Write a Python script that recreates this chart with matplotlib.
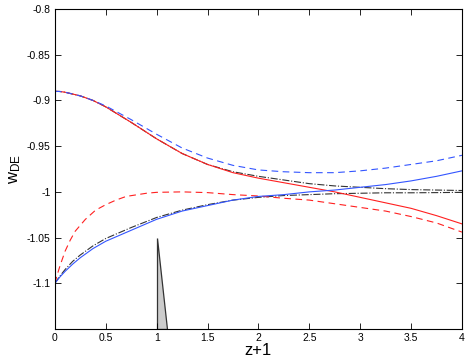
import numpy as np
import matplotlib.pyplot as plt

plt.rcParams['font.family'] = ['Liberation Sans', 'DejaVu Sans']

z = [0, 0.05, 0.1, 0.175, 0.25, 0.375, 0.5, 0.75, 1.0, 1.25, 1.5, 1.75, 2.0, 2.25, 2.5, 2.75,
     3.0, 3.25, 3.5, 3.75, 4.0]
red_solid = [-0.890, -0.8902, -0.891, -0.893, -0.895, -0.900, -0.907, -0.924, -0.942, -0.958,
             -0.970, -0.979, -0.985, -0.990, -0.995, -1.000, -1.006, -1.012, -1.018, -1.026, -1.035]
blue_dash = [-0.890, -0.8902, -0.891, -0.893, -0.895, -0.900, -0.906, -0.921, -0.937, -0.952,
             -0.963, -0.971, -0.976, -0.978, -0.979, -0.979, -0.977, -0.974, -0.970, -0.966, -0.960]
blue_solid = [-1.100, -1.093, -1.087, -1.079, -1.072, -1.062, -1.054, -1.042, -1.030, -1.021,
              -1.015, -1.009, -1.005, -1.003, -1.000, -0.998, -0.995, -0.992, -0.988, -0.983, -0.977]
dd_up = [-0.890, -0.8902, -0.891, -0.893, -0.895, -0.900, -0.907, -0.924, -0.942, -0.958,
         -0.970, -0.978, -0.983, -0.987, -0.991, -0.9935, -0.995, -0.9965, -0.9975, -0.998, -0.9985]
dd_low = [-1.100, -1.092, -1.085, -1.076, -1.069, -1.059, -1.051, -1.039, -1.028, -1.020,
          -1.014, -1.009, -1.006, -1.004, -1.003, -1.002, -1.0015, -1.001, -1.001, -1.0008, -1.0005]

z_rd = [0, 0.025, 0.05, 0.1, 0.15, 0.2, 0.3, 0.4, 0.5, 0.6, 0.7, 0.9, 1.0, 1.25, 1.5, 1.75,
        2.0, 2.25, 2.5, 2.75, 3.0, 3.25, 3.5, 3.75, 4.0]
red_dash = [-1.100, -1.090, -1.081, -1.065, -1.053, -1.043, -1.030, -1.020, -1.014, -1.009,
            -1.005, -1.0015, -1.0005, -1.000, -1.0008, -1.003, -1.0045, -1.007, -1.009, -1.013,
            -1.017, -1.021, -1.027, -1.034, -1.044]

tri_x = [1.0, 1.0, 1.1]
tri_y = [-1.05, -1.15, -1.15]

fig = plt.figure(figsize=(4.69, 3.61), dpi=100)
ax = fig.add_axes([0.117, 0.0886, 0.868, 0.8864])

lw = 0.8
ax.plot(z, dd_up, color='#333333', ls='-.', lw=lw)
ax.plot(z, dd_low, color='#333333', ls='-.', lw=lw)
ax.plot(z, red_solid, color='#ff2020', ls='-', lw=lw)
ax.plot(z_rd, red_dash, color='#ff2020', ls=(0, (6, 4)), lw=lw)
ax.plot(z, blue_solid, color='#3355ff', ls='-', lw=lw)
ax.plot(z, blue_dash, color='#3355ff', ls=(0, (6, 4)), lw=lw)
ax.fill(tri_x, tri_y, facecolor='#cccccc', edgecolor='#333333', lw=0.9)

ax.set_xlim(0, 4)
ax.set_ylim(-1.15, -0.8)
ax.set_xticks(np.arange(0, 4.01, 0.5))
ax.set_xticklabels(['0', '0.5', '1', '1.5', '2', '2.5', '3', '3.5', '4'])
ax.set_yticks([-1.1, -1.05, -1.0, -0.95, -0.9, -0.85, -0.8])
ax.set_yticklabels(['-1.1', '-1.05', '-1', '-0.95', '-0.9', '-0.85', '-0.8'])
ax.tick_params(direction='in', top=True, right=True, labelsize=7.5, length=4, width=0.6, pad=3)
for s in ax.spines.values():
    s.set_linewidth(0.8)

ax.set_xlabel('z+1', fontsize=12, labelpad=0)
ax.set_ylabel(r'$\mathregular{w_{DE}}$', fontsize=12, labelpad=3)

fig.savefig('out.png', dpi=100)
